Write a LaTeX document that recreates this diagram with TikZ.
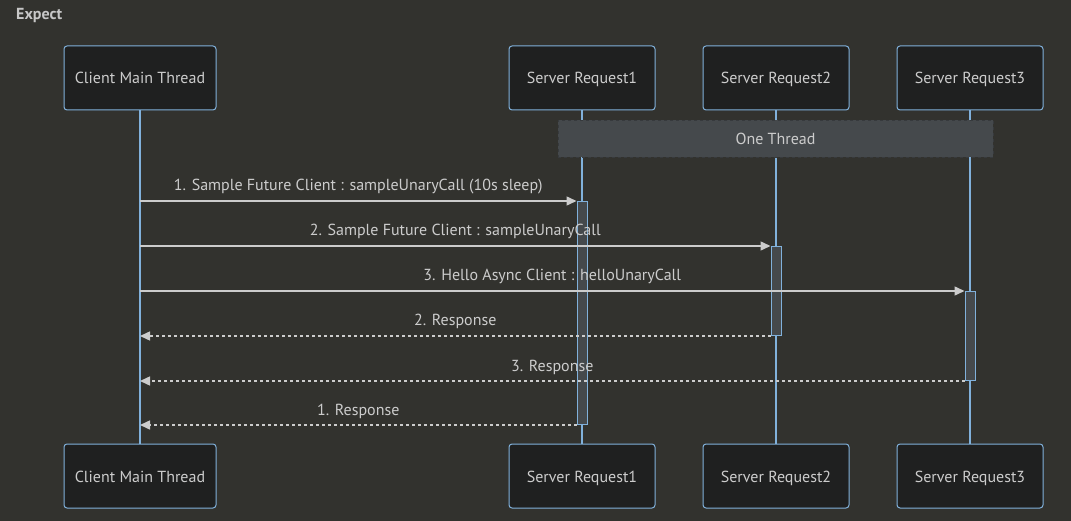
\documentclass[tikz,border=0pt]{standalone}
\usepackage{fontspec}
\setmainfont{PT Sans}
\usepackage{tikz}
\usetikzlibrary{positioning,arrows.meta}
\definecolor{bgcol}{RGB}{50,50,46}
\definecolor{actfill}{RGB}{31,32,32}
\definecolor{actline}{RGB}{129,177,219}
\definecolor{txtcol}{RGB}{204,204,204}
\definecolor{barfill}{RGB}{69,73,76}
\tikzstyle{actor}=[draw=actline, fill=actfill, rounded corners=3pt, minimum height=64pt, minimum width=146pt, text=txtcol, line width=1pt, text height=12pt, text depth=0pt]
\tikzstyle{bar}=[draw=actline, fill=barfill, minimum width=10pt, inner sep=0pt, line width=1pt, anchor=north]
\tikzstyle{notebox}=[fill=barfill, draw=barfill!80!black, dashed, minimum width=435pt, minimum height=37pt, text=txtcol]
\tikzstyle{life}=[draw=actline, line width=1.2pt]
\tikzstyle{msg}=[->, draw=txtcol, line width=1.5pt]
\tikzstyle{resp}=[->, draw=txtcol, line width=1.5pt, dash pattern=on 3pt off 3pt]
\tikzstyle{lbl}=[text=txtcol, anchor=base, yshift=10pt, inner sep=0pt]

\begin{document}
\begin{tikzpicture}[>={Triangle[length=10pt,width=9pt]},font=\fontsize{16}{19}\selectfont]
\fill[bgcol] (0,0) rectangle (1071pt,-521pt);
\useasboundingbox (0,0) rectangle (1071pt,-521pt);
\node[anchor=west, text=txtcol!110, font=\fontsize{16}{19}\selectfont\bfseries, inner sep=0pt] at (16pt,-16pt) (title) {Expect};

  \node[actor, minimum width=152pt] at (140pt,-78pt) (client) {Client Main Thread};
  \node[actor, right of = client, node distance = 442pt] (req1) {Server Request1};
  \node[actor, right of = req1, node distance = 194pt] (req2) {Server Request2};
  \node[actor, right of = req2, node distance = 194pt] (req3) {Server Request3};

  \node[actor, minimum width=152pt, below of = client, node distance = 398pt] (client2) {Client Main Thread};
  \node[actor, below of = req1, node distance = 398pt] (req1b) {Server Request1};
  \node[actor, below of = req2, node distance = 398pt] (req2b) {Server Request2};
  \node[actor, below of = req3, node distance = 398pt] (req3b) {Server Request3};

\draw[life] (client) -- (client2);
\draw[life] (req1) -- (req1b);
\draw[life] (req2) -- (req2b);
\draw[life] (req3) -- (req3b);

\node[notebox] at (775.5pt,-138.5pt) (thread) {One Thread};

\node[bar, minimum height=223pt] at (582pt,-201pt) (bar1) {};
\node[bar, minimum height=89pt] at (776pt,-246pt) (bar2) {};
\node[bar, minimum height=89pt] at (970pt,-291pt) (bar3) {};

\draw[msg] (client |- bar1.north) -- node[lbl] {1. Sample Future Client : sampleUnaryCall (10s sleep)} (bar1.north west);
\draw[msg] (client |- bar2.north) -- node[lbl] {2. Sample Future Client : sampleUnaryCall} (bar2.north west);
\draw[msg] (client |- bar3.north) -- node[lbl] {3. Hello Async Client : helloUnaryCall} (bar3.north west);

\draw[resp] (bar2.south west) -- node[lbl] {2. Response} (client |- bar2.south);
\draw[resp] (bar3.south west) -- node[lbl] {3. Response} (client |- bar3.south);
\draw[resp] (bar1.south west) -- node[lbl] {1. Response} (client |- bar1.south);
\end{tikzpicture}
\end{document}
